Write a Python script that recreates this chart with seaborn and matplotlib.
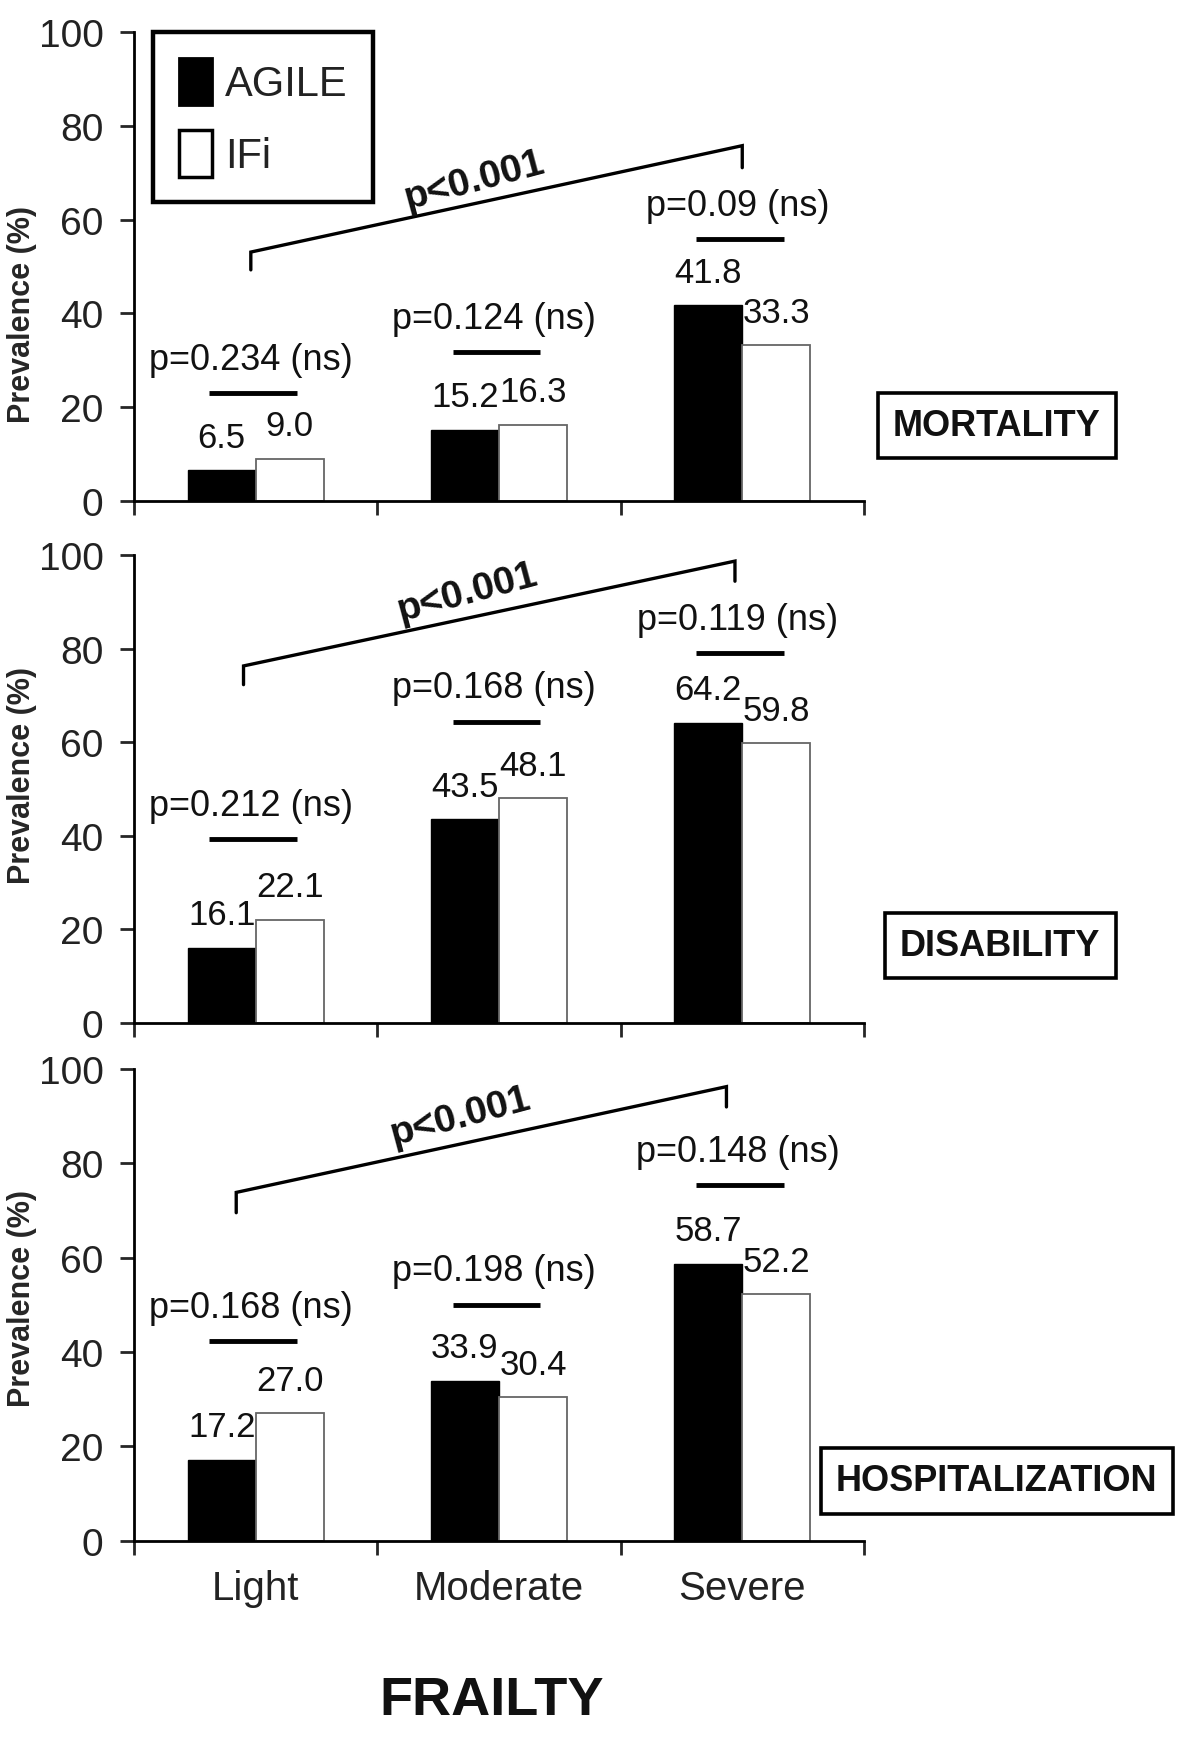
import matplotlib
matplotlib.use("Agg")
import matplotlib.pyplot as plt
from matplotlib.patches import Patch
import seaborn as sns
import pandas as pd

# data
categories = ["Light", "Moderate", "Severe"]
groups = ["AGILE", "IFi"]

mortality_agile = [6.5, 15.2, 41.8]
mortality_ifi = [9.0, 16.3, 33.3]
disability_agile = [16.1, 43.5, 64.2]
disability_ifi = [22.1, 48.1, 59.8]
hosp_agile = [17.2, 33.9, 58.7]
hosp_ifi = [27.0, 30.4, 52.2]

mortality_p = ["p=0.234 (ns)", "p=0.124 (ns)", "p=0.09 (ns)"]
disability_p = ["p=0.212 (ns)", "p=0.168 (ns)", "p=0.119 (ns)"]
hosp_p = ["p=0.168 (ns)", "p=0.198 (ns)", "p=0.148 (ns)"]
trend_p = "p<0.001"

outcomes = ["MORTALITY", "DISABILITY", "HOSPITALIZATION"]

# annotation layout (height of the small pair bars, bracket ends, trend text)
pair_bar_y = [[23.0, 31.7, 55.8], [39.3, 64.4, 79.0], [42.3, 50.0, 75.3]]
bracket = [
    ((-0.02, 49.3, 53.1), (2.00, 75.8, 71.1)),
    ((-0.05, 72.3, 76.3), (1.97, 98.7, 94.4)),
    ((-0.08, 69.5, 73.8), (1.935, 96.2, 91.9)),
]
trend_xy = [(0.90, 68.5), (0.87, 92.0), (0.84, 90.0)]

sns.set_style("ticks")
plt.rcParams["font.family"] = ["Liberation Sans", "DejaVu Sans"]

fig = plt.figure(figsize=(11.81, 17.49), dpi=100)

# axes rectangles in figure fractions
left, width = 0.1135, 0.618
rects = [(left, 0.713, width, 0.268), (left, 0.4145, width, 0.2676), (left, 0.1184, width, 0.270)]
label_boxes = [(0.844, 0.756), (0.847, 0.459), (0.844, 0.1527)]
ylabel_pos = [0.40, 0.53, 0.515]

series = [
    (mortality_agile, mortality_ifi, mortality_p),
    (disability_agile, disability_ifi, disability_p),
    (hosp_agile, hosp_ifi, hosp_p),
]

ink = "#111111"

for i, (agile, ifi, pv) in enumerate(series):
    ax = fig.add_axes(rects[i])
    df = pd.DataFrame({
        "frailty": categories * 2,
        "group": ["AGILE"] * 3 + ["IFi"] * 3,
        "value": agile + ifi,
    })
    sns.barplot(data=df, x="frailty", y="value", hue="group", order=categories,
                hue_order=groups, palette={"AGILE": "black", "IFi": "white"},
                width=0.56, gap=0, saturation=1, legend=False, ax=ax,
                edgecolor="black", linewidth=1)
    for bar in ax.containers[1]:
        bar.set_edgecolor("#666666")
        bar.set_linewidth(1.3)

    # value labels above each bar
    for cont in ax.containers:
        for bar in cont:
            h = bar.get_height()
            ax.text(bar.get_x() + bar.get_width() / 2, h + 7.0, f"{h:.1f}",
                    ha="center", va="center", fontsize=25, color=ink)

    # pairwise p-values
    for j, txt in enumerate(pv):
        yb = pair_bar_y[i][j]
        ax.hlines(yb, j - 0.19, j + 0.17, color="black", lw=3.5)
        ax.text(j - 0.02, yb + 7.2, txt, ha="center", va="center", fontsize=26, color=ink)

    # trend bracket
    (lx, ly0, ly1), (rx, ry1, ry0) = bracket[i]
    ax.plot([lx, lx, rx, rx], [ly0, ly1, ry1, ry0], color="black", lw=2.4,
            solid_joinstyle="miter", clip_on=False)
    ax.text(trend_xy[i][0], trend_xy[i][1], trend_p, rotation=15, rotation_mode="anchor",
            ha="center", va="center", fontsize=28, fontweight="bold", color=ink)

    ax.set_xlim(-0.5, 2.5)
    ax.set_ylim(0, 100)
    ax.set_yticks([0, 20, 40, 60, 80, 100])
    ax.set_xticks([-0.5, 0.5, 1.5, 2.5])
    ax.set_xticklabels([])
    ax.set_xlabel("")
    ax.set_ylabel("Prevalence (%)", fontsize=22, fontweight="bold")
    ax.yaxis.set_label_coords(-0.133, ylabel_pos[i])
    sns.despine(ax=ax)
    for s in ["left", "bottom"]:
        ax.spines[s].set_linewidth(2)
        ax.spines[s].set_color("black")
    ax.tick_params(axis="both", which="major", length=10, width=2, direction="out",
                   labelsize=28, labelcolor="#222222", pad=5)
    ax.tick_params(axis="y", pad=12)

    if i == 2:
        ax.set_xticks([0, 1, 2], minor=True)
        ax.set_xticklabels(categories, minor=True)
        ax.tick_params(axis="x", which="minor", length=0, pad=20, labelsize=29,
                       labelcolor="#222222")

    fig.text(label_boxes[i][0], label_boxes[i][1], outcomes[i], ha="center", va="center",
             fontsize=26, fontweight="bold", color=ink,
             bbox=dict(boxstyle="square,pad=0.42", facecolor="white", edgecolor="black", lw=2.6))

    if i == 0:
        handles = [Patch(facecolor="black", edgecolor="black", lw=2),
                   Patch(facecolor="white", edgecolor="black", lw=2.5)]
        leg = ax.legend(handles, groups, loc="upper left", bbox_to_anchor=(0.026, 1.0),
                        borderaxespad=0, fontsize=30, handlelength=0.8, handleheight=1.35,
                        handletextpad=0.3, labelspacing=0.6, borderpad=0.62,
                        fancybox=False, framealpha=1)
        leg.get_frame().set_edgecolor("black")
        leg.get_frame().set_linewidth(3.2)
        for t in leg.get_texts():
            t.set_color("#222222")

fig.text(0.4166, 0.0274, "FRAILTY", ha="center", va="center", fontsize=39,
         fontweight="bold", color=ink)

fig.savefig("out.png", dpi=100)
